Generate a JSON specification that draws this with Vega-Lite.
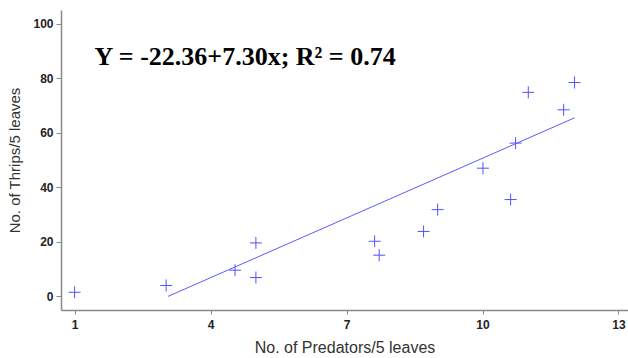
{
  "$schema": "https://vega.github.io/schema/vega-lite/v6.json",
  "width": 567,
  "height": 300,
  "autosize": "none",
  "padding": {"left": 61, "top": 10, "right": 0, "bottom": 48},
  "background": "white",
  "config": {"view": {"stroke": null}},
  "datasets": {
    "pts": [
      {"pred": 1.0, "thrips": 1.5},
      {"pred": 3.02, "thrips": 4.0},
      {"pred": 4.54, "thrips": 9.6},
      {"pred": 5.0, "thrips": 19.6},
      {"pred": 5.0, "thrips": 6.9},
      {"pred": 7.62, "thrips": 20.2},
      {"pred": 7.72, "thrips": 15.1},
      {"pred": 8.7, "thrips": 23.8},
      {"pred": 9.01, "thrips": 31.8},
      {"pred": 10.01, "thrips": 47.0},
      {"pred": 10.62, "thrips": 35.5},
      {"pred": 10.73, "thrips": 56.2},
      {"pred": 11.01, "thrips": 74.8},
      {"pred": 11.79, "thrips": 68.4},
      {"pred": 12.03, "thrips": 78.4}
    ],
    "fit": [
      {"pred": 3.06, "thrips": -0.02},
      {"pred": 12.03, "thrips": 65.46}
    ],
    "label": [
      {"pred": 1.44, "thrips": 85, "text": "Y = -22.36+7.30x; R² = 0.74"}
    ]
  },
  "layer": [
    {
      "mark": {"type": "rule", "color": "#8a8a8a", "strokeWidth": 1.5},
      "encoding": {"y": {"datum": 105, "type": "quantitative", "scale": {"domain": [-5, 105]}}}
    },
    {
      "data": {"name": "fit"},
      "mark": {"type": "line", "color": "#5a5aff", "strokeWidth": 1},
      "encoding": {
        "x": {"field": "pred", "type": "quantitative"},
        "y": {"field": "thrips", "type": "quantitative"}
      }
    },
    {
      "data": {"name": "pts"},
      "mark": {"type": "point", "shape": "M-1,0L1,0M0,-1L0,1", "filled": false, "size": 144, "color": "#5252ff", "strokeWidth": 1, "opacity": 1},
      "encoding": {
        "x": {
          "field": "pred", "type": "quantitative",
          "scale": {"domain": [0.7, 13.21], "nice": false, "zero": false},
          "axis": {
            "values": [1, 4, 7, 10, 13],
            "title": "No. of Predators/5 leaves",
            "titleFont": "Liberation Sans", "titleFontSize": 16, "titleFontWeight": "normal", "titleColor": "#333333",
            "titlePadding": 9,
            "labelFont": "Liberation Sans", "labelFontSize": 12, "labelFontWeight": "bold", "labelColor": "#222222",
            "labelPadding": 5,
            "domainColor": "#8a8a8a", "domainWidth": 1.5,
            "tickColor": "#8a8a8a", "tickSize": 4, "tickWidth": 1,
            "grid": false
          }
        },
        "y": {
          "field": "thrips", "type": "quantitative",
          "scale": {"domain": [-5, 105], "nice": false, "zero": false},
          "axis": {
            "values": [0, 20, 40, 60, 80, 100],
            "title": "No. of Thrips/5 leaves",
            "titleFont": "Liberation Sans", "titleFontSize": 15, "titleFontWeight": "normal", "titleColor": "#333333",
            "titlePadding": 10,
            "labelFont": "Liberation Sans", "labelFontSize": 12, "labelFontWeight": "bold", "labelColor": "#222222",
            "labelPadding": 3,
            "domainColor": "#8a8a8a", "domainWidth": 1.5,
            "tickColor": "#8a8a8a", "tickSize": 5, "tickWidth": 1,
            "grid": false
          }
        }
      }
    },
    {
      "data": {"name": "label"},
      "mark": {"type": "text", "align": "left", "baseline": "alphabetic", "font": "Liberation Serif", "fontSize": 26, "fontWeight": "bold", "color": "#000000"},
      "encoding": {
        "x": {"field": "pred", "type": "quantitative"},
        "y": {"field": "thrips", "type": "quantitative"},
        "text": {"field": "text"}
      }
    }
  ]
}
